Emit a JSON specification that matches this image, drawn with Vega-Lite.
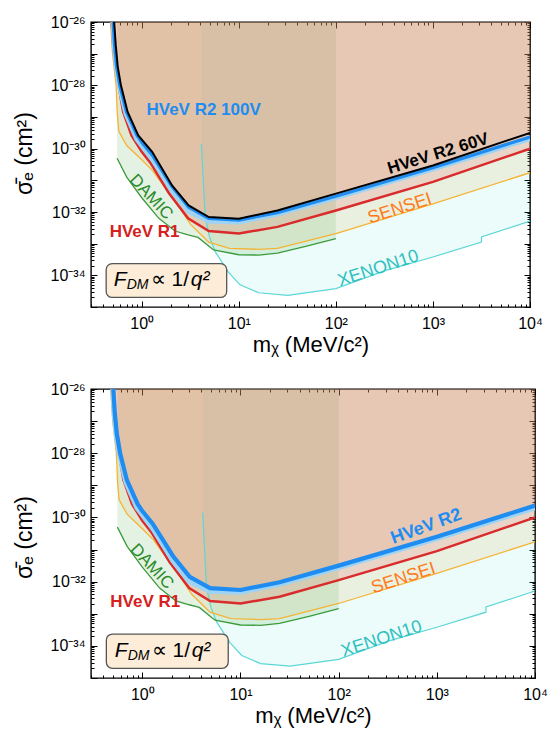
{
  "$schema": "https://vega.github.io/schema/vega-lite/v6.json",
  "padding": {"top": 13, "left": 12, "right": 5, "bottom": 5},
  "background": "white",
  "config": {
    "font": "Liberation Sans",
    "view": {"stroke": "black", "strokeWidth": 1.4},
    "axis": {"domain": false, "grid": false, "tickColor": "black", "tickWidth": 1, "labelColor": "black", "titleColor": "black", "labelFont": "Liberation Sans", "titleFont": "Liberation Sans", "labelFontSize": 16, "titleFontSize": 21, "titleFontWeight": "normal"}
  },
  "datasets": {
    "xenon": [
      {"m": 4.12, "sig": 1.41e-30}, {"m": 4.3, "sig": 1e-31}, {"m": 4.52, "sig": 6.31e-33}, {"m": 5.0, "sig": 1.58e-33},
      {"m": 5.73, "sig": 5.5e-34}, {"m": 7.8, "sig": 1.26e-34}, {"m": 10.3, "sig": 5.01e-35}, {"m": 16, "sig": 2.82e-35},
      {"m": 32, "sig": 2.34e-35}, {"m": 100, "sig": 3.8e-35}, {"m": 320, "sig": 1.41e-34}, {"m": 1000, "sig": 3.8e-34},
      {"m": 3160, "sig": 1.12e-33}, {"m": 3170, "sig": 1.62e-33}, {"m": 10000, "sig": 5.13e-33}
    ],
    "damic": [
      {"m": 0.557, "sig": 5.01e-31}, {"m": 0.7, "sig": 1.26e-31}, {"m": 1.0, "sig": 2.82e-32}, {"m": 1.5, "sig": 6.31e-33},
      {"m": 2.2, "sig": 2.51e-33}, {"m": 3.0, "sig": 1.91e-33}, {"m": 3.8, "sig": 1.58e-33}, {"m": 5.5, "sig": 6.31e-34},
      {"m": 10, "sig": 4.47e-34}, {"m": 16, "sig": 4.37e-34}, {"m": 25, "sig": 5.01e-34}, {"m": 50, "sig": 8.32e-34},
      {"m": 100, "sig": 1.45e-33}
    ],
    "sensei": [
      {"m": 0.476, "sig": 1e-26}, {"m": 0.5, "sig": 1e-27}, {"m": 0.544, "sig": 1e-28}, {"m": 0.56, "sig": 1.26e-29},
      {"m": 0.58, "sig": 3.55e-30}, {"m": 0.7, "sig": 1.26e-30}, {"m": 1.0, "sig": 4.47e-31}, {"m": 1.3, "sig": 2.0e-31},
      {"m": 1.8, "sig": 5.01e-32}, {"m": 2.5, "sig": 1.26e-32}, {"m": 3.2, "sig": 3.98e-33}, {"m": 4.9, "sig": 1.12e-33},
      {"m": 8, "sig": 7.08e-34}, {"m": 16, "sig": 6.61e-34}, {"m": 25, "sig": 7.08e-34}, {"m": 100, "sig": 2.09e-33},
      {"m": 1000, "sig": 1.82e-32}, {"m": 10000, "sig": 1.74e-31}
    ],
    "r1": [
      {"m": 0.49, "sig": 1e-26}, {"m": 0.51, "sig": 1.58e-27}, {"m": 0.535, "sig": 3.98e-28}, {"m": 0.576, "sig": 1e-28},
      {"m": 0.643, "sig": 1.45e-29}, {"m": 0.784, "sig": 2.63e-30}, {"m": 1.0, "sig": 7.94e-31}, {"m": 1.23, "sig": 3.55e-31},
      {"m": 1.9, "sig": 3.98e-32}, {"m": 3.0, "sig": 6.31e-33}, {"m": 4.9, "sig": 2.51e-33}, {"m": 10, "sig": 2.09e-33},
      {"m": 25, "sig": 3.39e-33}, {"m": 100, "sig": 1.12e-32}, {"m": 1000, "sig": 8.91e-32}, {"m": 10000, "sig": 1e-30}
    ],
    "r2": [
      {"m": 0.507, "sig": 1e-26}, {"m": 0.524, "sig": 1.82e-27}, {"m": 0.55, "sig": 3.98e-28}, {"m": 0.594, "sig": 1e-28},
      {"m": 0.696, "sig": 1.45e-29}, {"m": 0.895, "sig": 2.63e-30}, {"m": 1.0, "sig": 1.58e-30}, {"m": 1.28, "sig": 6.31e-31},
      {"m": 2.05, "sig": 6.31e-32}, {"m": 3.04, "sig": 1.41e-32}, {"m": 4.9, "sig": 6.31e-33}, {"m": 10, "sig": 5.5e-33},
      {"m": 25, "sig": 9.55e-33}, {"m": 100, "sig": 3.16e-32}, {"m": 1000, "sig": 2.51e-31}, {"m": 10000, "sig": 2.34e-30}
    ],
    "r60": [
      {"m": 0.52, "sig": 1e-26}, {"m": 0.54, "sig": 1.82e-27}, {"m": 0.565, "sig": 3.98e-28}, {"m": 0.61, "sig": 1e-28},
      {"m": 0.715, "sig": 1.45e-29}, {"m": 0.92, "sig": 2.63e-30}, {"m": 1.28, "sig": 7.94e-31}, {"m": 2.05, "sig": 6.92e-32},
      {"m": 3.04, "sig": 1.62e-32}, {"m": 4.9, "sig": 6.92e-33}, {"m": 10, "sig": 6.17e-33}, {"m": 25, "sig": 1.12e-32},
      {"m": 100, "sig": 3.8e-32}, {"m": 1000, "sig": 2.95e-31}, {"m": 10000, "sig": 3.16e-30}
    ],
    "band": [
      {"m": 0.5, "sig": 1e-26}, {"m": 0.515, "sig": 1.82e-27}, {"m": 0.54, "sig": 3.98e-28}, {"m": 0.58, "sig": 1e-28},
      {"m": 0.68, "sig": 1.26e-29}, {"m": 0.88, "sig": 2.0e-30}, {"m": 1.28, "sig": 4.47e-31}, {"m": 2.05, "sig": 4.47e-32},
      {"m": 3.04, "sig": 1.0e-32}, {"m": 4.9, "sig": 5.01e-33}, {"m": 10, "sig": 4.68e-33}, {"m": 25, "sig": 8.32e-33},
      {"m": 100, "sig": 2.75e-32}, {"m": 1000, "sig": 2.19e-31}, {"m": 10000, "sig": 2.0e-30}
    ],
    "labels": [
      {"t": "HVeV R2 100V", "m": 4.34, "sig": 1.66e-29},
      {"t": "HVeV R2 60V", "m": 1130, "sig": 6.9e-31},
      {"t": "HVeV R2", "m": 780, "sig": 5.13e-31},
      {"t": "SENSEI", "m": 457, "sig": 1.26e-32},
      {"t": "XENON10", "m": 274, "sig": 1.62e-34},
      {"t": "DAMIC", "m": 1.25, "sig": 2.95e-32},
      {"t": "HVeV R1", "m": 1.07, "sig": 2.34e-33}
    ],
    "box": [{"x1": 0.43, "x2": 7.5, "y1": 2.34e-34, "y2": 2.0e-35, "m": 1.81, "sig": 7.1e-35}],
    "anchor": [{"m": 1, "sig": 1e-30}]
  },
  "spacing": 24,
  "vconcat": [
    {
      "width": 439, "height": 285,
      "resolve": {"axis": {"x": "independent", "y": "independent"}},
      "layer": [
        {"data": {"name": "xenon"}, "mark": {"type": "area", "color": "#40e0d0", "opacity": 0.1, "clip": true},
         "encoding": {"x": {"field": "m", "type": "quantitative", "scale": {"type": "log", "domain": [0.3, 10000], "nice": false}, "axis": null},
                      "y": {"field": "sig", "type": "quantitative", "scale": {"type": "log", "domain": [1e-35, 1e-26], "nice": false}, "axis": null},
                      "y2": {"datum": 1e-26}}},
        {"data": {"name": "damic"}, "mark": {"type": "area", "color": "#3ca03c", "opacity": 0.14, "clip": true},
         "encoding": {"x": {"field": "m", "type": "quantitative", "axis": null}, "y": {"field": "sig", "type": "quantitative", "axis": null}, "y2": {"datum": 1e-26}}},
        {"data": {"name": "sensei"}, "mark": {"type": "area", "color": "#ddb052", "opacity": 0.15, "clip": true},
         "encoding": {"x": {"field": "m", "type": "quantitative", "axis": null}, "y": {"field": "sig", "type": "quantitative", "axis": null}, "y2": {"datum": 1e-26}}},
        {"data": {"name": "r1"}, "mark": {"type": "area", "color": "#e63c3c", "opacity": 0.15, "clip": true},
         "encoding": {"x": {"field": "m", "type": "quantitative", "axis": null}, "y": {"field": "sig", "type": "quantitative", "axis": null}, "y2": {"datum": 1e-26}}},
        {"data": {"name": "r2"}, "mark": {"type": "area", "color": "#e68250", "opacity": 0.15, "clip": true},
         "encoding": {"x": {"field": "m", "type": "quantitative", "axis": null}, "y": {"field": "sig", "type": "quantitative", "axis": null}, "y2": {"datum": 1e-26}}},
        {"data": {"name": "xenon"}, "mark": {"type": "line", "color": "#5cd6d6", "strokeWidth": 1.2, "clip": true},
         "encoding": {"x": {"field": "m", "type": "quantitative", "axis": null}, "y": {"field": "sig", "type": "quantitative", "axis": null}}},
        {"data": {"name": "damic"}, "mark": {"type": "line", "color": "#3c9a3c", "strokeWidth": 1.3, "clip": true},
         "encoding": {"x": {"field": "m", "type": "quantitative", "axis": null}, "y": {"field": "sig", "type": "quantitative", "axis": null}}},
        {"data": {"name": "sensei"}, "mark": {"type": "line", "color": "#f5b335", "strokeWidth": 1.3, "clip": true},
         "encoding": {"x": {"field": "m", "type": "quantitative", "axis": null}, "y": {"field": "sig", "type": "quantitative", "axis": null}}},
        {"data": {"name": "r1"}, "mark": {"type": "line", "color": "#d92b2b", "strokeWidth": 2.5, "clip": true},
         "encoding": {"x": {"field": "m", "type": "quantitative", "axis": null}, "y": {"field": "sig", "type": "quantitative", "axis": null}}},
        {"data": {"name": "band"}, "mark": {"type": "line", "color": "#9dd3f5", "strokeWidth": 4, "clip": true},
         "encoding": {"x": {"field": "m", "type": "quantitative", "axis": null}, "y": {"field": "sig", "type": "quantitative", "axis": null}}},
        {"data": {"name": "r2"}, "mark": {"type": "line", "color": "#1e8cf0", "strokeWidth": 3.2, "clip": true},
         "encoding": {"x": {"field": "m", "type": "quantitative", "axis": null}, "y": {"field": "sig", "type": "quantitative", "axis": null}}},
        {"data": {"name": "r60"}, "mark": {"type": "line", "color": "#000000", "strokeWidth": 2, "clip": true},
         "encoding": {"x": {"field": "m", "type": "quantitative", "axis": null}, "y": {"field": "sig", "type": "quantitative", "axis": null}}},
        {"data": {"name": "labels"}, "transform": [{"filter": "datum.t == 'HVeV R2 100V'"}],
         "mark": {"type": "text", "color": "#1e8cf0", "fontSize": 17, "fontWeight": "bold"},
         "encoding": {"x": {"field": "m", "type": "quantitative", "axis": null}, "y": {"field": "sig", "type": "quantitative", "axis": null}, "text": {"field": "t"}}},
        {"data": {"name": "labels"}, "transform": [{"filter": "datum.t == 'HVeV R2 60V'"}],
         "mark": {"type": "text", "color": "#000000", "fontSize": 17, "fontWeight": "bold", "angle": -17},
         "encoding": {"x": {"field": "m", "type": "quantitative", "axis": null}, "y": {"field": "sig", "type": "quantitative", "axis": null}, "text": {"field": "t"}}},
        {"data": {"name": "labels"}, "transform": [{"filter": "datum.t == 'SENSEI'"}],
         "mark": {"type": "text", "color": "#ff7a1a", "fontSize": 18, "angle": -18},
         "encoding": {"x": {"field": "m", "type": "quantitative", "axis": null}, "y": {"field": "sig", "type": "quantitative", "axis": null}, "text": {"field": "t"}}},
        {"data": {"name": "labels"}, "transform": [{"filter": "datum.t == 'XENON10'"}],
         "mark": {"type": "text", "color": "#2cc0c0", "fontSize": 18, "angle": -18},
         "encoding": {"x": {"field": "m", "type": "quantitative", "axis": null}, "y": {"field": "sig", "type": "quantitative", "axis": null}, "text": {"field": "t"}}},
        {"data": {"name": "labels"}, "transform": [{"filter": "datum.t == 'DAMIC'"}],
         "mark": {"type": "text", "color": "#2a8a2a", "fontSize": 17, "angle": 47},
         "encoding": {"x": {"field": "m", "type": "quantitative", "axis": null}, "y": {"field": "sig", "type": "quantitative", "axis": null}, "text": {"field": "t"}}},
        {"data": {"name": "labels"}, "transform": [{"filter": "datum.t == 'HVeV R1'"}],
         "mark": {"type": "text", "color": "#d62020", "fontSize": 17, "fontWeight": "bold"},
         "encoding": {"x": {"field": "m", "type": "quantitative", "axis": null}, "y": {"field": "sig", "type": "quantitative", "axis": null}, "text": {"field": "t"}}},
        {"data": {"name": "box"}, "mark": {"type": "rect", "fill": "#fcecd8", "stroke": "#555555", "strokeWidth": 1.3, "cornerRadius": 6},
         "encoding": {"x": {"field": "x1", "type": "quantitative", "axis": null}, "x2": {"field": "x2"}, "y": {"field": "y1", "type": "quantitative", "axis": null}, "y2": {"field": "y2"}}},
        {"data": {"name": "box"}, "mark": {"type": "text", "text": "F", "fontSize": 21, "fontStyle": "italic", "align": "left", "baseline": "middle", "dx": -53, "color": "black"},
         "encoding": {"x": {"field": "m", "type": "quantitative", "axis": null}, "y": {"field": "sig", "type": "quantitative", "axis": null}}},
        {"data": {"name": "box"}, "mark": {"type": "text", "text": "DM", "fontSize": 14, "fontStyle": "italic", "align": "left", "baseline": "middle", "dx": -40, "dy": 5, "color": "black"},
         "encoding": {"x": {"field": "m", "type": "quantitative", "axis": null}, "y": {"field": "sig", "type": "quantitative", "axis": null}}},
        {"data": {"name": "box"}, "mark": {"type": "text", "text": "∝ 1/", "fontSize": 21, "align": "left", "baseline": "middle", "dx": -16, "color": "black"},
         "encoding": {"x": {"field": "m", "type": "quantitative", "axis": null}, "y": {"field": "sig", "type": "quantitative", "axis": null}}},
        {"data": {"name": "box"}, "mark": {"type": "text", "text": "q²", "fontSize": 21, "fontStyle": "italic", "align": "left", "baseline": "middle", "dx": 24, "color": "black"},
         "encoding": {"x": {"field": "m", "type": "quantitative", "axis": null}, "y": {"field": "sig", "type": "quantitative", "axis": null}}},
        {"data": {"name": "anchor"}, "mark": {"type": "point", "opacity": 0},
         "encoding": {
           "x": {"field": "m", "type": "quantitative", "title": "mᵪ (MeV/c²)", "axis": {"orient": "bottom", "values": [1, 10, 100, 1000, 10000], "tickSize": -6, "labelPadding": 14, "labelFlush": false, "titlePadding": 3, "labelFontSize": 16, "titleFontSize": 22,
                 "labelExpr": "datum.value < 5 ? '10⁰' : datum.value < 50 ? '10¹' : datum.value < 500 ? '10²' : datum.value < 5000 ? '10³' : '10⁴'"}},
           "y": {"field": "sig", "type": "quantitative", "title": "σ̄ₑ (cm²)", "axis": {"orient": "left", "values": [1e-35, 1e-34, 1e-33, 1e-32, 1e-31, 1e-30, 1e-29, 1e-28, 1e-27, 1e-26], "tickSize": -6, "labelPadding": 12, "labelFlush": false, "titlePadding": 14, "titleY": 131, "labelFontSize": 16, "titleFontSize": 23,
                 "labelExpr": "datum.value < 3e-35 ? '' : datum.value < 3e-34 ? '10⁻³⁴' : datum.value < 3e-33 ? '' : datum.value < 3e-32 ? '10⁻³²' : datum.value < 3e-31 ? '' : datum.value < 3e-30 ? '10⁻³⁰' : datum.value < 3e-29 ? '' : datum.value < 3e-28 ? '10⁻²⁸' : datum.value < 3e-27 ? '' : '10⁻²⁶'"}}}},
        {"data": {"name": "anchor"}, "mark": {"type": "point", "opacity": 0},
         "encoding": {
           "x": {"field": "m", "type": "quantitative", "axis": {"orient": "bottom", "tickCount": 60, "tickSize": -3, "labels": false, "title": null}},
           "y": {"field": "sig", "type": "quantitative", "axis": {"orient": "left", "tickCount": 100, "tickSize": -3, "labels": false, "title": null}}}},
        {"data": {"name": "anchor"}, "mark": {"type": "point", "opacity": 0},
         "encoding": {
           "x": {"field": "m", "type": "quantitative", "axis": {"orient": "top", "values": [1, 10, 100, 1000, 10000], "tickSize": -6, "labels": false, "title": null}},
           "y": {"field": "sig", "type": "quantitative", "axis": {"orient": "right", "values": [1e-35, 1e-34, 1e-33, 1e-32, 1e-31, 1e-30, 1e-29, 1e-28, 1e-27, 1e-26], "tickSize": -6, "labels": false, "title": null}}}},
        {"data": {"name": "anchor"}, "mark": {"type": "point", "opacity": 0},
         "encoding": {
           "x": {"field": "m", "type": "quantitative", "axis": {"orient": "top", "tickCount": 60, "tickSize": -3, "labels": false, "title": null}},
           "y": {"field": "sig", "type": "quantitative", "axis": {"orient": "right", "tickCount": 100, "tickSize": -3, "labels": false, "title": null}}}}
      ]
    },
    {
      "width": 444, "height": 289,
      "resolve": {"axis": {"x": "independent", "y": "independent"}},
      "layer": [
        {"data": {"name": "xenon"}, "mark": {"type": "area", "color": "#40e0d0", "opacity": 0.1, "clip": true},
         "encoding": {"x": {"field": "m", "type": "quantitative", "scale": {"type": "log", "domain": [0.3, 10000], "nice": false}, "axis": null},
                      "y": {"field": "sig", "type": "quantitative", "scale": {"type": "log", "domain": [1e-35, 1e-26], "nice": false}, "axis": null},
                      "y2": {"datum": 1e-26}}},
        {"data": {"name": "damic"}, "mark": {"type": "area", "color": "#3ca03c", "opacity": 0.14, "clip": true},
         "encoding": {"x": {"field": "m", "type": "quantitative", "axis": null}, "y": {"field": "sig", "type": "quantitative", "axis": null}, "y2": {"datum": 1e-26}}},
        {"data": {"name": "sensei"}, "mark": {"type": "area", "color": "#ddb052", "opacity": 0.15, "clip": true},
         "encoding": {"x": {"field": "m", "type": "quantitative", "axis": null}, "y": {"field": "sig", "type": "quantitative", "axis": null}, "y2": {"datum": 1e-26}}},
        {"data": {"name": "r1"}, "mark": {"type": "area", "color": "#e63c3c", "opacity": 0.15, "clip": true},
         "encoding": {"x": {"field": "m", "type": "quantitative", "axis": null}, "y": {"field": "sig", "type": "quantitative", "axis": null}, "y2": {"datum": 1e-26}}},
        {"data": {"name": "r2"}, "mark": {"type": "area", "color": "#e68250", "opacity": 0.15, "clip": true},
         "encoding": {"x": {"field": "m", "type": "quantitative", "axis": null}, "y": {"field": "sig", "type": "quantitative", "axis": null}, "y2": {"datum": 1e-26}}},
        {"data": {"name": "xenon"}, "mark": {"type": "line", "color": "#5cd6d6", "strokeWidth": 1.2, "clip": true},
         "encoding": {"x": {"field": "m", "type": "quantitative", "axis": null}, "y": {"field": "sig", "type": "quantitative", "axis": null}}},
        {"data": {"name": "damic"}, "mark": {"type": "line", "color": "#3c9a3c", "strokeWidth": 1.3, "clip": true},
         "encoding": {"x": {"field": "m", "type": "quantitative", "axis": null}, "y": {"field": "sig", "type": "quantitative", "axis": null}}},
        {"data": {"name": "sensei"}, "mark": {"type": "line", "color": "#f5b335", "strokeWidth": 1.3, "clip": true},
         "encoding": {"x": {"field": "m", "type": "quantitative", "axis": null}, "y": {"field": "sig", "type": "quantitative", "axis": null}}},
        {"data": {"name": "r1"}, "mark": {"type": "line", "color": "#d92b2b", "strokeWidth": 2.5, "clip": true},
         "encoding": {"x": {"field": "m", "type": "quantitative", "axis": null}, "y": {"field": "sig", "type": "quantitative", "axis": null}}},
        {"data": {"name": "band"}, "mark": {"type": "line", "color": "#9dd3f5", "strokeWidth": 5, "clip": true},
         "encoding": {"x": {"field": "m", "type": "quantitative", "axis": null}, "y": {"field": "sig", "type": "quantitative", "axis": null}}},
        {"data": {"name": "r2"}, "mark": {"type": "line", "color": "#1e8cf0", "strokeWidth": 4.2, "clip": true},
         "encoding": {"x": {"field": "m", "type": "quantitative", "axis": null}, "y": {"field": "sig", "type": "quantitative", "axis": null}}},
        {"data": {"name": "labels"}, "transform": [{"filter": "datum.t == 'HVeV R2'"}],
         "mark": {"type": "text", "color": "#1e8cf0", "fontSize": 18, "fontWeight": "bold", "angle": -20},
         "encoding": {"x": {"field": "m", "type": "quantitative", "axis": null}, "y": {"field": "sig", "type": "quantitative", "axis": null}, "text": {"field": "t"}}},
        {"data": {"name": "labels"}, "transform": [{"filter": "datum.t == 'SENSEI'"}],
         "mark": {"type": "text", "color": "#ff7a1a", "fontSize": 18, "angle": -18},
         "encoding": {"x": {"field": "m", "type": "quantitative", "axis": null}, "y": {"field": "sig", "type": "quantitative", "axis": null}, "text": {"field": "t"}}},
        {"data": {"name": "labels"}, "transform": [{"filter": "datum.t == 'XENON10'"}],
         "mark": {"type": "text", "color": "#2cc0c0", "fontSize": 18, "angle": -18},
         "encoding": {"x": {"field": "m", "type": "quantitative", "axis": null}, "y": {"field": "sig", "type": "quantitative", "axis": null}, "text": {"field": "t"}}},
        {"data": {"name": "labels"}, "transform": [{"filter": "datum.t == 'DAMIC'"}],
         "mark": {"type": "text", "color": "#2a8a2a", "fontSize": 17, "angle": 47},
         "encoding": {"x": {"field": "m", "type": "quantitative", "axis": null}, "y": {"field": "sig", "type": "quantitative", "axis": null}, "text": {"field": "t"}}},
        {"data": {"name": "labels"}, "transform": [{"filter": "datum.t == 'HVeV R1'"}],
         "mark": {"type": "text", "color": "#d62020", "fontSize": 17, "fontWeight": "bold"},
         "encoding": {"x": {"field": "m", "type": "quantitative", "axis": null}, "y": {"field": "sig", "type": "quantitative", "axis": null}, "text": {"field": "t"}}},
        {"data": {"name": "box"}, "mark": {"type": "rect", "fill": "#fcecd8", "stroke": "#555555", "strokeWidth": 1.3, "cornerRadius": 6},
         "encoding": {"x": {"field": "x1", "type": "quantitative", "axis": null}, "x2": {"field": "x2"}, "y": {"field": "y1", "type": "quantitative", "axis": null}, "y2": {"field": "y2"}}},
        {"data": {"name": "box"}, "mark": {"type": "text", "text": "F", "fontSize": 21, "fontStyle": "italic", "align": "left", "baseline": "middle", "dx": -53, "color": "black"},
         "encoding": {"x": {"field": "m", "type": "quantitative", "axis": null}, "y": {"field": "sig", "type": "quantitative", "axis": null}}},
        {"data": {"name": "box"}, "mark": {"type": "text", "text": "DM", "fontSize": 14, "fontStyle": "italic", "align": "left", "baseline": "middle", "dx": -40, "dy": 5, "color": "black"},
         "encoding": {"x": {"field": "m", "type": "quantitative", "axis": null}, "y": {"field": "sig", "type": "quantitative", "axis": null}}},
        {"data": {"name": "box"}, "mark": {"type": "text", "text": "∝ 1/", "fontSize": 21, "align": "left", "baseline": "middle", "dx": -16, "color": "black"},
         "encoding": {"x": {"field": "m", "type": "quantitative", "axis": null}, "y": {"field": "sig", "type": "quantitative", "axis": null}}},
        {"data": {"name": "box"}, "mark": {"type": "text", "text": "q²", "fontSize": 21, "fontStyle": "italic", "align": "left", "baseline": "middle", "dx": 24, "color": "black"},
         "encoding": {"x": {"field": "m", "type": "quantitative", "axis": null}, "y": {"field": "sig", "type": "quantitative", "axis": null}}},
        {"data": {"name": "anchor"}, "mark": {"type": "point", "opacity": 0},
         "encoding": {
           "x": {"field": "m", "type": "quantitative", "title": "mᵪ (MeV/c²)", "axis": {"orient": "bottom", "values": [1, 10, 100, 1000, 10000], "tickSize": -6, "labelPadding": 14, "labelFlush": false, "titlePadding": 3, "labelFontSize": 16, "titleFontSize": 22,
                 "labelExpr": "datum.value < 5 ? '10⁰' : datum.value < 50 ? '10¹' : datum.value < 500 ? '10²' : datum.value < 5000 ? '10³' : '10⁴'"}},
           "y": {"field": "sig", "type": "quantitative", "title": "σ̄ₑ (cm²)", "axis": {"orient": "left", "values": [1e-35, 1e-34, 1e-33, 1e-32, 1e-31, 1e-30, 1e-29, 1e-28, 1e-27, 1e-26], "tickSize": -6, "labelPadding": 12, "labelFlush": false, "titlePadding": 14, "titleY": 148, "labelFontSize": 16, "titleFontSize": 23,
                 "labelExpr": "datum.value < 3e-35 ? '' : datum.value < 3e-34 ? '10⁻³⁴' : datum.value < 3e-33 ? '' : datum.value < 3e-32 ? '10⁻³²' : datum.value < 3e-31 ? '' : datum.value < 3e-30 ? '10⁻³⁰' : datum.value < 3e-29 ? '' : datum.value < 3e-28 ? '10⁻²⁸' : datum.value < 3e-27 ? '' : '10⁻²⁶'"}}}},
        {"data": {"name": "anchor"}, "mark": {"type": "point", "opacity": 0},
         "encoding": {
           "x": {"field": "m", "type": "quantitative", "axis": {"orient": "bottom", "tickCount": 60, "tickSize": -3, "labels": false, "title": null}},
           "y": {"field": "sig", "type": "quantitative", "axis": {"orient": "left", "tickCount": 100, "tickSize": -3, "labels": false, "title": null}}}},
        {"data": {"name": "anchor"}, "mark": {"type": "point", "opacity": 0},
         "encoding": {
           "x": {"field": "m", "type": "quantitative", "axis": {"orient": "top", "values": [1, 10, 100, 1000, 10000], "tickSize": -6, "labels": false, "title": null}},
           "y": {"field": "sig", "type": "quantitative", "axis": {"orient": "right", "values": [1e-35, 1e-34, 1e-33, 1e-32, 1e-31, 1e-30, 1e-29, 1e-28, 1e-27, 1e-26], "tickSize": -6, "labels": false, "title": null}}}},
        {"data": {"name": "anchor"}, "mark": {"type": "point", "opacity": 0},
         "encoding": {
           "x": {"field": "m", "type": "quantitative", "axis": {"orient": "top", "tickCount": 60, "tickSize": -3, "labels": false, "title": null}},
           "y": {"field": "sig", "type": "quantitative", "axis": {"orient": "right", "tickCount": 100, "tickSize": -3, "labels": false, "title": null}}}}
      ]
    }
  ]
}
